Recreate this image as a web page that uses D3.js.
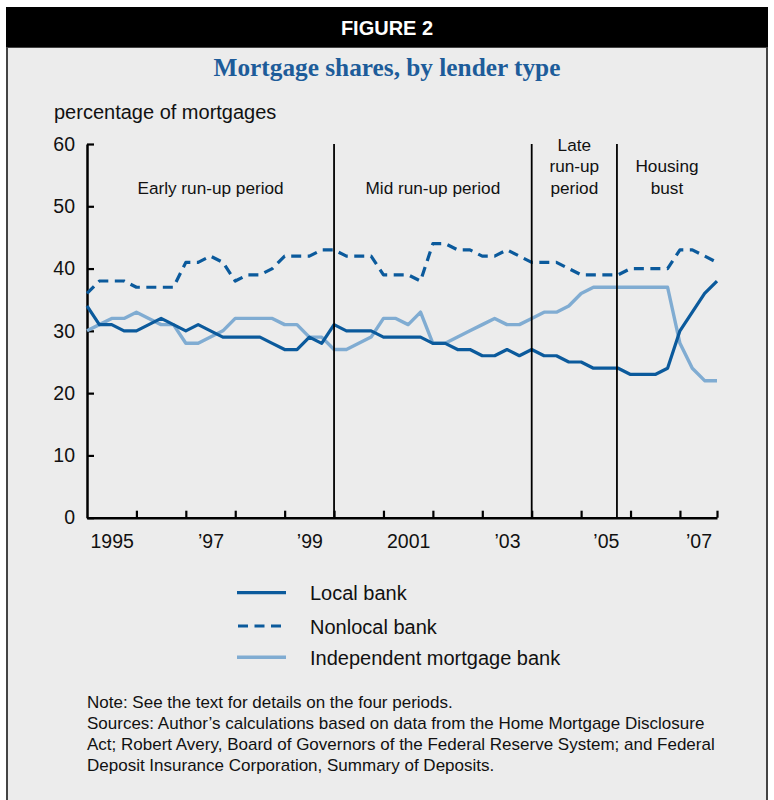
<!DOCTYPE html>
<html>
<head>
<meta charset="utf-8">
<script src="https://cdn.jsdelivr.net/npm/d3@7"></script>
<style>
  html, body { margin: 0; padding: 0; background: #ffffff; }
  svg { display: block; }
  text { font-family: "Liberation Sans", Arial, Helvetica, sans-serif; fill: #111; }
</style>
</head>
<body>
<svg id="chart" width="774" height="800"></svg>
<script>
// ---------------- DATA (quarterly, 1995 Q1 – 2007 Q4) ----------------
const startYear = 1995;
const seriesNames = ["Local bank", "Nonlocal bank", "Independent mortgage bank"];
const localBank = [34,31,31,30,30,31,32,31,30,31,30,29,29,29,29,28,27,27,29,28,
                   31,30,30,30,29,29,29,29,28,28,27,27,26,26,27,26,
                   27,26,26,25,25,24,24,24,23,23,23,24,30,33,36,38];
const nonlocalBank = [36,38,38,38,37,37,37,37,41,41,42,41,38,39,39,40,42,42,42,43,
                      43,42,42,42,39,39,39,38,44,44,43,43,42,42,43,42,
                      41,41,41,40,39,39,39,39,40,40,40,40,43,43,42,41];
const independentBank = [30,31,32,32,33,32,31,31,28,28,29,30,32,32,32,32,31,31,29,29,
                         27,27,28,29,32,32,31,33,28,28,29,30,31,32,31,31,
                         32,33,33,34,36,37,37,37,37,37,37,37,28,24,22,22];
const yTicks = [0,10,20,30,40,50,60];
const labelYears = [1995,1997,1999,2001,2003,2005,2007];
const labelTexts = ["1995","\u201997","\u201999","2001","\u201903","\u201905","\u201907"];
const periodBreaks = [2000.0, 2004.0, 2005.725];   // vertical dividers (year fractions)
const periodLabels = [
  {lines:["Early run-up period"], from:1995.0, to:2000.0},
  {lines:["Mid run-up period"], from:2000.0, to:2004.0},
  {lines:["Late","run-up","period"], from:2004.0, to:2005.725},
  {lines:["Housing","bust"], from:2005.725, to:2007.75}
];

// ---------------- LAYOUT ----------------
const W = 774, H = 800;
const plot = {left: 87, right: 717, top: 144, bottom: 517.7};
const darkBlue = "#0b5a9c", lightBlue = "#80acd2";

const svg = d3.select("#chart");

// frame
svg.append("rect").attr("x",0).attr("y",0).attr("width",W).attr("height",H).attr("fill","#fff");
svg.append("rect").attr("x",7).attr("y",47).attr("width",760).attr("height",770)
   .attr("fill","#ececec").attr("stroke","#444").attr("stroke-width",2);
svg.append("rect").attr("x",6).attr("y",7).attr("width",762).attr("height",40).attr("fill","#000");
svg.append("text").attr("x",W/2).attr("y",35).attr("text-anchor","middle")
   .style("font-weight","bold").style("font-size","20px").style("fill","#fff")
   .text("FIGURE 2");
svg.append("text").attr("x",W/2).attr("y",76).attr("text-anchor","middle")
   .style("font-family","'Liberation Serif','Times New Roman',serif")
   .style("font-weight","bold").style("font-size","25.3px").style("fill","#1d5c9a")
   .text("Mortgage shares, by lender type");
svg.append("text").attr("x",54).attr("y",119).style("font-size","20px")
   .text("percentage of mortgages");

// scales
const lastT = startYear + (localBank.length - 1) / 4;
const x = d3.scaleLinear().domain([startYear, lastT]).range([plot.left, plot.right]);
const y = d3.scaleLinear().domain([0, 60]).range([plot.bottom, plot.top]);

// y axis
const yAxis = svg.append("g").attr("transform", `translate(${plot.left},0)`)
  .call(d3.axisLeft(y).tickValues(yTicks).tickSize(-7).tickSizeOuter(0).tickPadding(12));
yAxis.select(".domain").attr("stroke","#000").attr("stroke-width",2.5);
yAxis.selectAll(".tick line").attr("stroke","#000").attr("stroke-width",2.2);
yAxis.selectAll(".tick text").style("font-size","19.5px").style("font-family","'Liberation Sans', Arial, sans-serif").attr("fill","#111");

// x axis ticks at year boundaries + end
const tickYears = d3.range(startYear + 1, Math.floor(lastT) + 1).concat([lastT]);
const xAxis = svg.append("g").attr("transform", `translate(0,${plot.bottom})`)
  .call(d3.axisBottom(x).tickValues(tickYears).tickSize(-7).tickSizeOuter(0).tickFormat(""));
xAxis.select(".domain").attr("stroke","#000").attr("stroke-width",2.5);
xAxis.selectAll(".tick line").attr("stroke","#000").attr("stroke-width",2.2);

// x axis labels centered within each labelled year
const labelPos = labelYears.map(yr => (yr + Math.min(yr + 1, lastT)) / 2);
const xLab = svg.append("g").attr("transform", `translate(0,${plot.bottom})`)
  .call(d3.axisBottom(x).tickValues(labelPos).tickSize(0).tickPadding(16)
        .tickFormat((d,i) => labelTexts[i]));
xLab.select(".domain").remove();
xLab.selectAll(".tick text").style("font-size","19.5px").style("font-family","'Liberation Sans', Arial, sans-serif").attr("fill","#111");

// lines
const line = d3.line().x((d,i) => x(startYear + i/4)).y(d => y(d));
svg.append("path").datum(independentBank).attr("d", line)
   .attr("fill","none").attr("stroke",lightBlue).attr("stroke-width",3.4).attr("stroke-linejoin","round");
svg.append("path").datum(nonlocalBank).attr("d", line)
   .attr("fill","none").attr("stroke",darkBlue).attr("stroke-width",3.2)
   .attr("stroke-dasharray","10,6.5").attr("stroke-linejoin","round");
svg.append("path").datum(localBank).attr("d", line)
   .attr("fill","none").attr("stroke",darkBlue).attr("stroke-width",3.2).attr("stroke-linejoin","round");

// period dividers
svg.selectAll("line.period").data(periodBreaks).enter().append("line")
   .attr("class","period")
   .attr("x1", d => x(d)).attr("x2", d => x(d))
   .attr("y1", y(60)).attr("y2", y(0))
   .attr("stroke","#000").attr("stroke-width",1.8);

// period labels
periodLabels.forEach(p => {
  const cx = (x(p.from) + x(p.to)) / 2;
  const n = p.lines.length;
  p.lines.forEach((t, k) => {
    svg.append("text").attr("x", cx).attr("y", 193.5 - (n - 1 - k) * 21.5)
       .attr("text-anchor","middle").style("font-size","17.2px").text(t);
  });
});

// legend
const legendStyles = [
  {color: darkBlue, dash: null, width: 3.2},
  {color: darkBlue, dash: "10,6.5", width: 3.2},
  {color: lightBlue, dash: null, width: 3.4}
];
const legendY = [592.7, 626, 657.3];
seriesNames.forEach((name, i) => {
  const st = legendStyles[i];
  const l = svg.append("line").attr("x1", 237).attr("x2", 286)
     .attr("y1", legendY[i]).attr("y2", legendY[i])
     .attr("stroke", st.color).attr("stroke-width", st.width);
  if (st.dash) l.attr("stroke-dasharray", st.dash).attr("stroke-dashoffset", -1);
  svg.append("text").attr("x", 310).attr("y", legendY[i] + 7.5)
     .style("font-size","20px").text(name);
});

// notes
const notes = [
  "Note: See the text for details on the four periods.",
  "Sources: Author\u2019s calculations based on data from the Home Mortgage Disclosure",
  "Act; Robert Avery, Board of Governors of the Federal Reserve System; and Federal",
  "Deposit Insurance Corporation, Summary of Deposits."
];
notes.forEach((t, i) => {
  svg.append("text").attr("x", 87).attr("y", 708 + i * 21)
     .style("font-size","17px").text(t);
});
</script>
</body>
</html>
